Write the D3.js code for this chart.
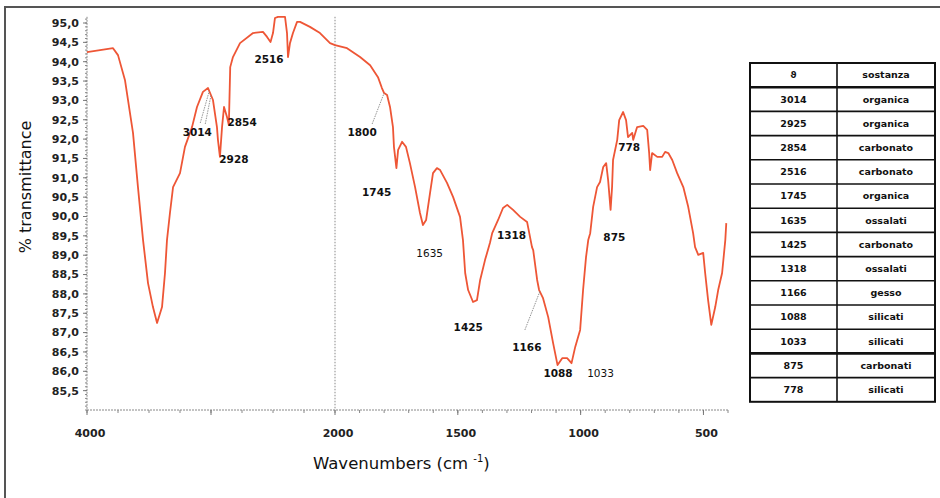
<!DOCTYPE html>
<html>
<head>
<meta charset="utf-8">
<script src="https://cdn.jsdelivr.net/npm/d3@7"></script>
<style>
  body { margin: 0; background: #fff; }
  text { font-family: "DejaVu Sans", "Liberation Sans", Arial, sans-serif; }
</style>
</head>
<body>
<svg id="chart" width="940" height="498"></svg>
<script>
// FTIR spectrum: wavenumber (cm-1) and % transmittance
const wavenumbers = [
  4000, 3895, 3790, 3750, 3694, 3629, 3589, 3548, 3508, 3468, 3435, 3395, 3371, 3355, 3331, 3306,
  3250, 3210, 3153, 3113, 3065, 3024, 2984, 2952, 2944, 2928, 2911, 2895, 2871, 2856, 2845, 2823,
  2766, 2661, 2581, 2548, 2520, 2500, 2484, 2460, 2403, 2387, 2379, 2363, 2339, 2306, 2282, 2202,
  2121, 2040, 2000, 1951, 1898, 1857, 1825, 1809, 1800, 1788, 1776, 1764, 1760, 1750, 1743, 1727,
  1711, 1695, 1674, 1654, 1642, 1629, 1613, 1601, 1585, 1572, 1544, 1519, 1491, 1479, 1470, 1458,
  1438, 1422, 1409, 1389, 1369, 1360, 1336, 1316, 1299, 1275, 1246, 1218, 1198, 1193, 1177, 1169,
  1153, 1132, 1112, 1094, 1075, 1055, 1037, 1022, 1002, 990, 978, 969, 961, 949, 933, 921,
  908, 896, 888, 878, 872, 868, 851, 843, 827, 815, 807, 790, 786, 770, 745, 729,
  721, 717, 709, 688, 668, 656, 643, 627, 607, 582, 562, 542, 534, 521, 501, 493,
  481, 468, 452, 440, 424, 411, 407
];
const transmittance = [
  94.25, 94.30, 94.35, 94.17, 93.53, 92.16, 90.76, 89.39, 88.28, 87.66, 87.25, 87.66, 88.54, 89.39, 90.09, 90.76,
  91.12, 91.80, 92.31, 92.83, 93.22, 93.32, 93.01, 92.31, 91.98, 91.54, 92.31, 92.83, 92.57, 92.36, 93.86, 94.12,
  94.48, 94.74, 94.77, 94.64, 94.51, 94.74, 95.13, 95.16, 95.16, 94.74, 94.12, 94.48, 94.74, 95.03, 95.03, 94.90,
  94.74, 94.48, 94.43, 94.35, 94.12, 93.91, 93.60, 93.32, 93.19, 93.14, 92.83, 92.31, 91.80, 91.25, 91.72, 91.93,
  91.80, 91.38, 90.76, 90.09, 89.78, 89.91, 90.61, 91.12, 91.25, 91.20, 90.87, 90.50, 89.99, 89.39, 88.54, 88.10,
  87.79, 87.84, 88.36, 88.88, 89.32, 89.57, 89.91, 90.22, 90.30, 90.17, 89.99, 89.86, 89.21, 89.13, 88.36, 88.10,
  87.89, 87.40, 86.73, 86.16, 86.34, 86.34, 86.21, 86.63, 87.07, 88.10, 88.95, 89.39, 89.57, 90.25, 90.76, 90.89,
  91.28, 91.38, 90.94, 90.17, 90.76, 91.46, 91.98, 92.49, 92.70, 92.49, 92.05, 92.16, 91.98, 92.31, 92.34, 92.24,
  91.64, 91.20, 91.64, 91.54, 91.54, 91.67, 91.64, 91.46, 91.12, 90.76, 90.25, 89.57, 89.21, 89.01, 89.06, 88.54,
  87.84, 87.20, 87.66, 88.10, 88.54, 89.39, 89.83
];

// Band labels on the spectrum
const bandLabels = ["3014", "2928", "2854", "2516", "1800", "1745", "1635", "1425", "1318", "1166", "1088", "1033", "875", "778"];

// Assignment table
const tableHeader = ["ϑ", "sostanza"];
const tableBands = ["3014", "2925", "2854", "2516", "1745", "1635", "1425", "1318", "1166", "1088", "1033", "875", "778"];
const tableSubstances = ["organica", "organica", "carbonato", "carbonato", "organica", "ossalati", "carbonato", "ossalati", "gesso", "silicati", "silicati", "carbonati", "silicati"];

// Axis ticks
const yTickLabels = d3.range(85.5, 95.01, 0.5);
const xMajorTicks = [4000, 2000, 1500, 1000, 500];
const xMinorTicks = d3.range(4000, 1999, -250).concat(d3.range(1900, 399, -100));

const svg = d3.select("#chart");
const red = "#ee5636";

// Outer frame
svg.append("rect")
  .attr("x", 5).attr("y", 7).attr("width", 960).attr("height", 520)
  .attr("fill", "none").attr("stroke", "#555").attr("stroke-width", 2);

// Scales: the wavenumber axis doubles its scale below 2000 cm-1
const x = d3.scaleLinear().domain([4000, 2000, 400]).range([87, 335, 728]);
const y = d3.scaleLinear().domain([85, 95]).range([410, 23]);
const yTop = y(95.16);

// Y axis: minor ticks every 0.1, labelled every 0.5
const yMinor = d3.range(85, 95.11, 0.1);
const gy = svg.append("g").attr("transform", "translate(87,0)");
gy.selectAll("line.minor").data(yMinor).join("line")
  .attr("x1", -2).attr("x2", 0)
  .attr("y1", d => y(d)).attr("y2", d => y(d))
  .attr("stroke", "#888").attr("stroke-width", 1);
gy.append("line").attr("x1", 0).attr("x2", 0).attr("y1", yTop).attr("y2", 410)
  .attr("stroke", "#888").attr("stroke-width", 1).attr("stroke-dasharray", "2,1");
gy.selectAll("line.major").data(yTickLabels).join("line")
  .attr("x1", -4).attr("x2", 0)
  .attr("y1", d => y(d)).attr("y2", d => y(d))
  .attr("stroke", "#777").attr("stroke-width", 1);
gy.selectAll("text").data(yTickLabels).join("text")
  .attr("x", -8).attr("y", d => y(d)).attr("dy", "0.35em")
  .attr("text-anchor", "end").attr("font-size", 11).attr("font-weight", "bold")
  .attr("fill", "#222")
  .text(d => d3.format(".1f")(d).replace(".", ","));

// X axis
const gx = svg.append("g").attr("transform", "translate(0,410)");
gx.append("line").attr("x1", 87).attr("x2", 728).attr("y1", 0).attr("y2", 0)
  .attr("stroke", "#888").attr("stroke-width", 1).attr("stroke-dasharray", "2,1");
gx.selectAll("line.minor").data(xMinorTicks).join("line")
  .attr("x1", d => x(d)).attr("x2", d => x(d)).attr("y1", 0).attr("y2", 3)
  .attr("stroke", "#888");
gx.selectAll("line.major").data(xMajorTicks.concat([3000])).join("line")
  .attr("x1", d => x(d)).attr("x2", d => x(d)).attr("y1", 0).attr("y2", 5)
  .attr("stroke", "#777");
gx.selectAll("text").data(xMajorTicks).join("text")
  .attr("x", d => x(d) + 3).attr("y", 23).attr("dy", "0.35em")
  .attr("text-anchor", "middle").attr("font-size", 11).attr("font-weight", "bold")
  .attr("fill", "#222")
  .text(d => d);

// Dotted reference line at the scale change
svg.append("line").attr("x1", x(2000)).attr("x2", x(2000)).attr("y1", yTop).attr("y2", 410)
  .attr("stroke", "#888").attr("stroke-width", 1).attr("stroke-dasharray", "1.5,1.5");

// Axis titles
const xt = svg.append("text").attr("x", 313).attr("y", 469)
  .attr("font-family", "Liberation Sans, Arial, sans-serif")
  .attr("font-size", 16.5).attr("fill", "#111");
xt.append("tspan").text("Wavenumbers (cm ");
xt.append("tspan").attr("font-size", 10).attr("dy", -7).text("-1");
xt.append("tspan").attr("dy", 7).text(")");

svg.append("text")
  .attr("transform", "translate(31,187) rotate(-90)")
  .attr("text-anchor", "middle")
  .attr("font-family", "Liberation Sans, Arial, sans-serif")
  .attr("font-size", 16).attr("fill", "#111")
  .text("% transmittance");

// Spectrum
const spectrum = wavenumbers.map((w, i) => [w, transmittance[i]]);
svg.append("path")
  .datum(spectrum)
  .attr("fill", "none").attr("stroke", red).attr("stroke-width", 1.8)
  .attr("stroke-linejoin", "round")
  .attr("d", d3.line().x(d => x(d[0])).y(d => y(d[1])));

// Transmittance on the curve at a given wavenumber
function tAt(w) {
  for (let i = 1; i < wavenumbers.length; i++) {
    if (wavenumbers[i] <= w) {
      const w0 = wavenumbers[i - 1], w1 = wavenumbers[i];
      const f = (w0 - w) / (w0 - w1);
      return transmittance[i - 1] + f * (transmittance[i] - transmittance[i - 1]);
    }
  }
  return transmittance[transmittance.length - 1];
}

// Label placement: horizontal offset from the band, vertical pixel centre
const labelLayout = {
  "3014": [-12, 132, "bold"], "2928": [14, 159, "bold"], "2854": [13, 122, "bold"],
  "2516": [-2, 59, "bold"], "1800": [-22, 132, "bold"], "1745": [-21, 192, "bold"],
  "1635": [5, 253, "normal"], "1425": [-8, 327, "bold"], "1318": [9, 235, "bold"],
  "1166": [-13, 347, "bold"], "1088": [-1, 373, "bold"], "1033": [28, 373, "normal"],
  "875": [3, 237, "bold"], "778": [-6, 147, "bold"]
};

// Leader lines from labels to the spectrum
const leaders = [
  ["3014", 3014, 3, -9], ["3014", 3000, 8, -8],
  ["1800", 1800, 10, -8], ["1166", 1166, -2, -17]
];
svg.selectAll("line.leader").data(leaders).join("line")
  .attr("x1", d => x(+d[0]) + labelLayout[d[0]][0] + d[2])
  .attr("y1", d => labelLayout[d[0]][1] + d[3])
  .attr("x2", d => x(d[1]))
  .attr("y2", d => y(tAt(d[1])))
  .attr("stroke", "#888").attr("stroke-width", 0.9).attr("stroke-dasharray", "1.5,1");

svg.selectAll("text.band").data(bandLabels).join("text")
  .attr("x", d => x(+d) + labelLayout[d][0])
  .attr("y", d => labelLayout[d][1]).attr("dy", "0.35em")
  .attr("text-anchor", "middle")
  .attr("font-size", 10.5).attr("font-weight", d => labelLayout[d][2])
  .attr("fill", "#111")
  .text(d => d);

// Assignment table
const tbl = { left: 750, mid: 837, right: 935, top: 63, rowH: 24.2 };
const rows = [tableHeader].concat(tableBands.map((b, i) => [b, tableSubstances[i]]));
const gt = svg.append("g");
gt.selectAll("text.c0").data(rows).join("text")
  .attr("x", (tbl.left + tbl.mid) / 2)
  .attr("y", (d, i) => tbl.top + (i + 0.5) * tbl.rowH).attr("dy", "0.35em")
  .attr("text-anchor", "middle").attr("font-size", 9.5).attr("font-weight", "bold")
  .attr("fill", "#111").text(d => d[0]);
gt.selectAll("text.c1").data(rows).join("text")
  .attr("x", (tbl.mid + tbl.right) / 2)
  .attr("y", (d, i) => tbl.top + (i + 0.5) * tbl.rowH).attr("dy", "0.35em")
  .attr("text-anchor", "middle").attr("font-size", 9.5).attr("font-weight", "bold")
  .attr("fill", "#111").text(d => d[1]);
const thick = new Set([1, 12]);
gt.selectAll("line.row").data(d3.range(1, rows.length)).join("line")
  .attr("x1", tbl.left).attr("x2", tbl.right)
  .attr("y1", i => tbl.top + i * tbl.rowH).attr("y2", i => tbl.top + i * tbl.rowH)
  .attr("stroke", "#111").attr("stroke-width", i => thick.has(i) ? 2.6 : 1.6);
gt.append("line").attr("x1", tbl.mid).attr("x2", tbl.mid)
  .attr("y1", tbl.top).attr("y2", tbl.top + rows.length * tbl.rowH)
  .attr("stroke", "#111").attr("stroke-width", 1.6);
gt.append("rect").attr("x", tbl.left).attr("y", tbl.top)
  .attr("width", tbl.right - tbl.left).attr("height", rows.length * tbl.rowH)
  .attr("fill", "none").attr("stroke", "#111").attr("stroke-width", 2);
</script>
</body>
</html>
